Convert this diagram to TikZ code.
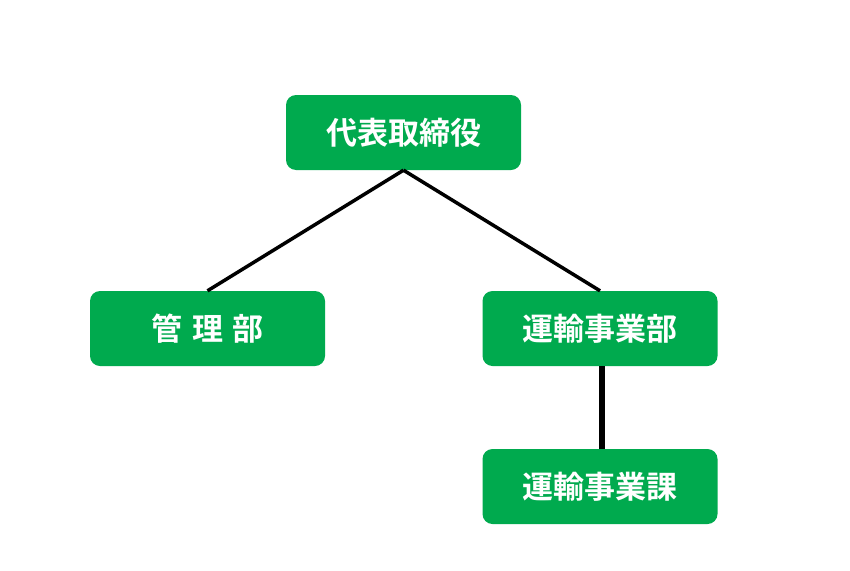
\documentclass[tikz,border=0pt]{standalone}
\usepackage{fontspec}
\newfontfamily\cjk{Noto Sans CJK JP}[BoldFont={Noto Sans CJK JP Bold}]
\definecolor{boxgreen}{RGB}{0,170,78}
\begin{document}
\begin{tikzpicture}[x=1pt,y=-1pt,
  orgbox/.style={fill=boxgreen, rounded corners=10pt, minimum width=235pt, minimum height=75pt,
    inner sep=0pt, text=white, font=\cjk\bfseries\fontsize{31}{34}\selectfont},
  link/.style={line width=3.5pt, black}]
\useasboundingbox (0,0) rectangle (850,570);
\node[orgbox] (ceo) at (403.5,132.5) {代表取締役};
\node[orgbox] (admin) at (207.5,328.5) {管\hspace{0.3em}理\hspace{0.3em}部};
\node[orgbox] (trans) at (600,328.5) {運輸事業部};
\node[orgbox] (sect) at (600,486.5) {運輸事業課};
\draw[link] (ceo.south) -- (admin.north);
\draw[link] (ceo.south) -- (trans.north);
\draw[line width=5.5pt] ([xshift=2pt]trans.south) -- ([xshift=2pt]sect.north);
\end{tikzpicture}
\end{document}
